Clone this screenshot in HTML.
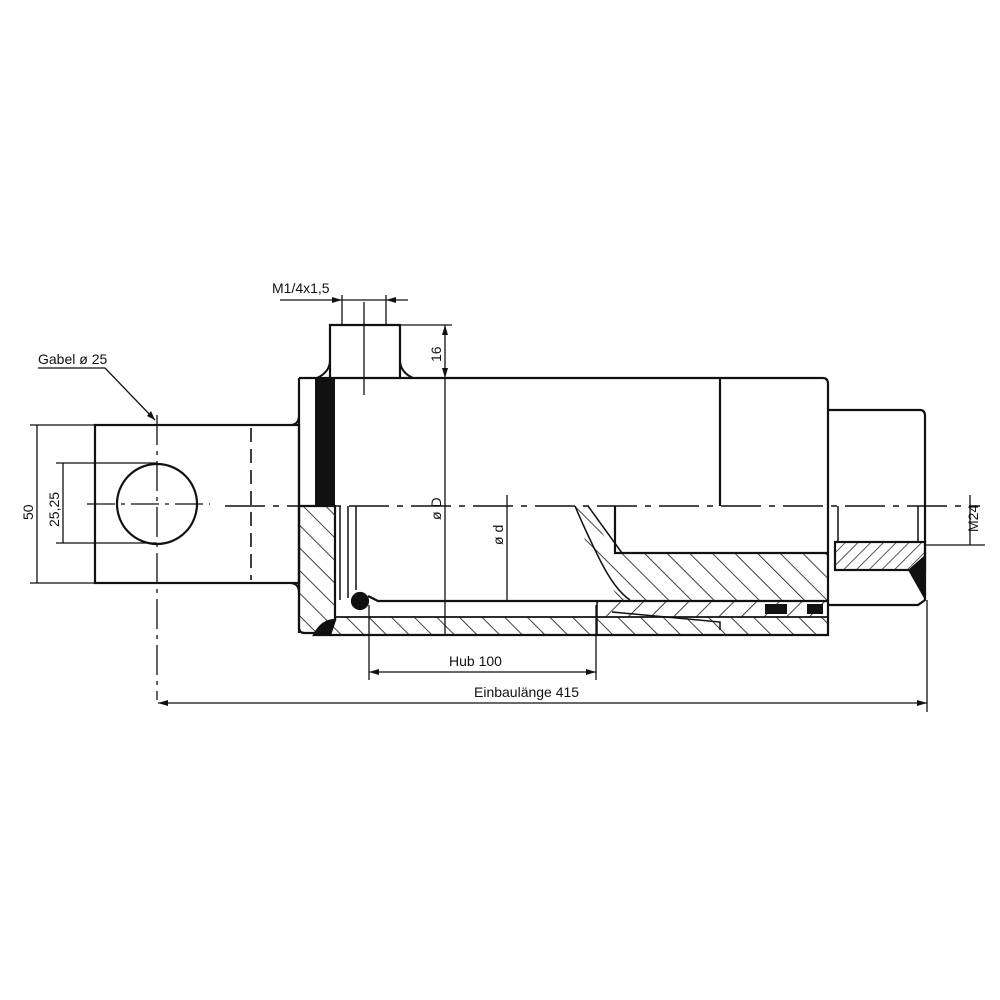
<!DOCTYPE html>
<html><head><meta charset="utf-8"><style>
html,body{margin:0;padding:0;background:#fff;}
svg{display:block;}
text{font-family:"Liberation Sans",sans-serif;font-size:14px;fill:#111;}
</style></head><body>
<svg width="1000" height="1000" viewBox="0 0 1000 1000" xmlns="http://www.w3.org/2000/svg">
<defs>
<pattern id="h1" patternUnits="userSpaceOnUse" width="16" height="16" patternTransform="rotate(45)">
<line x1="0" y1="0" x2="0" y2="16" stroke="#111" stroke-width="1.6"/></pattern>
<pattern id="h2" patternUnits="userSpaceOnUse" width="16" height="16" patternTransform="rotate(-45)">
<line x1="0" y1="0" x2="0" y2="16" stroke="#111" stroke-width="1.6"/></pattern>
<pattern id="h3" patternUnits="userSpaceOnUse" width="9" height="9" patternTransform="rotate(45)">
<line x1="0" y1="0" x2="0" y2="9" stroke="#111" stroke-width="1.4"/></pattern>
</defs>
<g stroke="#111" fill="none" stroke-width="2.2">
<!-- clevis -->
<rect x="95" y="425" width="204" height="158"/>
<line x1="251" y1="428" x2="251" y2="580" stroke-dasharray="14,7" stroke-width="1.6"/>
<circle cx="157" cy="504" r="40"/>
<line x1="157" y1="415" x2="157" y2="700" stroke-width="1.3" stroke-dasharray="30,6,4,6"/>
<line x1="87" y1="504" x2="210" y2="504" stroke-width="1.3" stroke-dasharray="28,6,4,6"/>
<!-- centre line -->
<line x1="225" y1="506" x2="980" y2="506" stroke-width="1.5" stroke-dasharray="40,8,6,8"/>
<!-- body -->
<path d="M299 378 H823 Q828 378 828 384 V600 M299 378 V633 M330 635 H828 V600"/>
<path d="M299 415 Q299 425 290 425 M299 593 Q299 583 290 583" stroke-width="2"/>
<line x1="720" y1="378" x2="720" y2="506"/>
<!-- port boss -->
<path d="M330 378 V325 H400 V378"/>
<path d="M317 378 Q330 372 330 360 M413 378 Q400 372 400 360" stroke-width="2"/>
<line x1="364" y1="302" x2="364" y2="395" stroke-width="1.3"/>
<!-- black seal bar -->
<rect x="315" y="378" width="20" height="128" fill="#111" stroke="none"/>
<!-- left cap hatched -->
<path d="M299 506 H335 V620 L322 633 H305 Q299 633 299 628 Z" fill="url(#h2)"/>
<path d="M314 635 Q322 620 335 620 L330 635 Z" fill="#111"/>
<!-- piston inner lines -->
<line x1="340" y1="506" x2="340" y2="600" stroke-width="1.5"/>
<line x1="348" y1="506" x2="348" y2="598" stroke-width="1.5"/>
<line x1="356" y1="506" x2="356" y2="590" stroke-width="1.5"/>
<circle cx="360" cy="601" r="8" fill="#111"/>
<path d="M368 596 L378 601 H597"/>
<!-- lower tube hatched -->
<rect x="330" y="617" width="498" height="18" fill="url(#h2)" stroke="none"/>
<line x1="335" y1="617" x2="828" y2="617" stroke-width="1.8"/>
<rect x="597" y="601" width="231" height="16" fill="url(#h1)" stroke="none"/>
<line x1="597" y1="601" x2="828" y2="601"/>
<line x1="597" y1="601" x2="597" y2="635" stroke-width="1.5"/>
<path d="M612 612 L720 622 V630" stroke-width="1.5"/>
<rect x="765" y="604" width="22" height="10" fill="#111" stroke="none"/>
<rect x="807" y="604" width="16" height="10" fill="#111" stroke="none"/>
<!-- rod section -->
<path d="M615 506 V553 H828"/>
<path d="M585 506 L615 553 L828 553 V600 H597 L620 600 Q600 570 585 540 Q578 520 575 506 Z" fill="url(#h2)" stroke="none"/>
<path d="M575 506 Q585 530 600 560 Q615 590 630 600" stroke-width="1.5"/>
<path d="M588 506 L622 553" stroke-width="1.5"/>
<!-- right rod end -->
<path d="M828 410 H920 Q925 410 925 416 V600 L918 605 H828"/>
<line x1="838" y1="506" x2="838" y2="542" stroke-width="1.5"/>
<line x1="918" y1="506" x2="918" y2="542" stroke-width="1.5"/>
<rect x="835" y="542" width="90" height="28" fill="url(#h3)"/>
<path d="M925 555 L925 600 L908 570 Z" fill="#111" stroke="none"/>
<!-- dims -->
<g stroke-width="1.3">
<line x1="445" y1="325" x2="445" y2="635"/>
<line x1="400" y1="325" x2="452" y2="325"/>
<line x1="507" y1="495" x2="507" y2="600"/>
<line x1="280" y1="300" x2="408" y2="300"/>
<line x1="342" y1="295" x2="342" y2="325"/>
<line x1="386" y1="295" x2="386" y2="325"/>
<line x1="30" y1="425" x2="95" y2="425"/>
<line x1="30" y1="583" x2="95" y2="583"/>
<line x1="37" y1="425" x2="37" y2="583"/>
<line x1="56" y1="463" x2="157" y2="463"/>
<line x1="56" y1="543" x2="157" y2="543"/>
<line x1="63" y1="463" x2="63" y2="543"/>
<line x1="369" y1="605" x2="369" y2="680"/>
<line x1="596" y1="605" x2="596" y2="680"/>
<line x1="369" y1="672" x2="596" y2="672"/>
<line x1="927" y1="600" x2="927" y2="712"/>
<line x1="158" y1="703" x2="927" y2="703"/>
<line x1="925" y1="545" x2="985" y2="545"/>
<line x1="970" y1="495" x2="970" y2="545"/>
<path d="M38 368 H105 L155 420"/>
</g>
</g>
<g fill="#111">
<path d="M155 420 l-8 -4 l4 -5 z"/>
<path d="M369 672 l10 -3 v6 z M596 672 l-10 -3 v6 z"/>
<path d="M158 703 l10 -3 v6 z M927 703 l-10 -3 v6 z"/>
<path d="M342 300 l-10 -3 v6 z M386 300 l10 -3 v6 z"/>
<path d="M445 325 l-3 10 h6 z M445 378 l-3 -10 h6 z"/>
</g>
<text x="272" y="293">M1/4x1,5</text>
<text x="38" y="364">Gabel ø 25</text>
<text x="449" y="666">Hub 100</text>
<text x="474" y="697">Einbaulänge 415</text>
<text transform="translate(441,362) rotate(-90)">16</text>
<text transform="translate(441,520) rotate(-90)">ø D</text>
<text transform="translate(503,545) rotate(-90)">ø d</text>
<text transform="translate(33,520) rotate(-90)">50</text>
<text transform="translate(59,527) rotate(-90)">25,25</text>
<text transform="translate(978,532) rotate(-90)">M24</text>
</svg>
</body></html>
